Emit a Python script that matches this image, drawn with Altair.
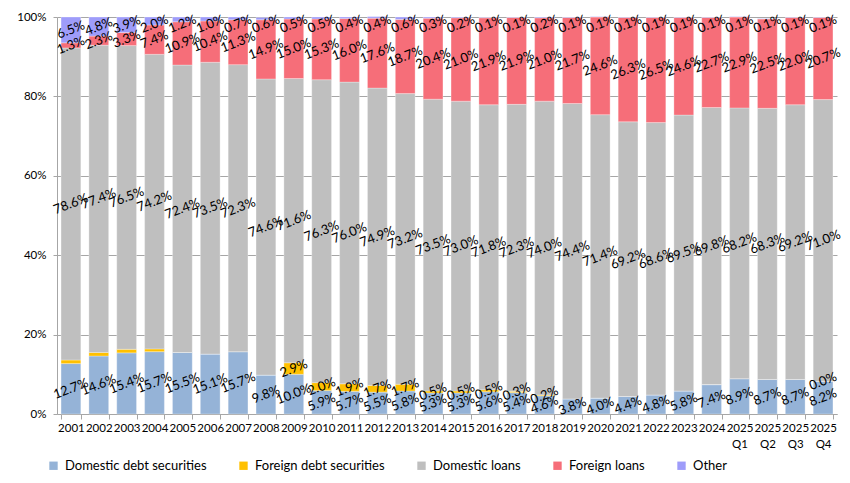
import altair as alt
import pandas as pd

categories = [str(y) for y in range(2001, 2025)] + ["2025|Q1", "2025|Q2", "2025|Q3", "2025|Q4"]

series_names = ["Domestic debt securities", "Foreign debt securities", "Domestic loans", "Foreign loans", "Other"]
series_colors = ["#95b3d7", "#ffc000", "#bfbfbf", "#f66e79", "#9e9cfa"]

domestic_debt = [12.7, 14.6, 15.4, 15.7, 15.5, 15.1, 15.7, 9.8, 10.0, 5.9, 5.7, 5.5, 5.8, 5.3,
                 5.3, 5.6, 5.4, 4.6, 3.8, 4.0, 4.4, 4.8, 5.8, 7.4, 8.9, 8.7, 8.7, 8.2]
foreign_debt = [0.9, 0.9, 0.9, 0.7, 0.0, 0.0, 0.0, 0.0, 2.9, 2.0, 1.9, 1.7, 1.7, 0.5,
                0.5, 0.5, 0.3, 0.2, 0.0, 0.0, 0.0, 0.0, 0.0, 0.0, 0.0, 0.0, 0.0, 0.0]
foreign_debt_labels = ["", "", "", "", "", "", "", "", "2.9%", "2.0%", "1.9%", "1.7%", "1.7%", "0.5%",
                       "0.5%", "0.5%", "0.3%", "0.2%", "", "", "", "", "", "", "", "", "", "0.0%"]
domestic_loans = [78.6, 77.4, 76.5, 74.2, 72.4, 73.5, 72.3, 74.6, 71.6, 76.3, 76.0, 74.9, 73.2, 73.5,
                  73.0, 71.8, 72.3, 74.0, 74.4, 71.4, 69.2, 68.6, 69.5, 69.8, 68.2, 68.3, 69.2, 71.0]
foreign_loans = [1.3, 2.3, 3.3, 7.4, 10.9, 10.4, 11.3, 14.9, 15.0, 15.3, 16.0, 17.6, 18.7, 20.4,
                 21.0, 21.9, 21.9, 21.0, 21.7, 24.6, 26.3, 26.5, 24.6, 22.7, 22.9, 22.5, 22.0, 20.7]
other = [6.5, 4.8, 3.9, 2.0, 1.2, 1.0, 0.7, 0.6, 0.5, 0.5, 0.4, 0.4, 0.6, 0.3,
         0.2, 0.1, 0.1, 0.2, 0.1, 0.1, 0.1, 0.1, 0.1, 0.1, 0.1, 0.1, 0.1, 0.1]

all_values = [domestic_debt, foreign_debt, domestic_loans, foreign_loans, other]

rows = []
for s_idx, (name, vals) in enumerate(zip(series_names, all_values)):
    for c_idx, cat in enumerate(categories):
        v = vals[c_idx]
        if name == "Foreign debt securities":
            lab = foreign_debt_labels[c_idx]
        else:
            lab = f"{v:.1f}%"
        rows.append({"cat": cat, "series": name, "value": v, "order": s_idx, "label": lab})
df = pd.DataFrame(rows)

FONT = "Lato"

x_enc = alt.X("cat:N", sort=categories, title=None,
              scale=alt.Scale(paddingInner=0.29, paddingOuter=0.145),
              axis=alt.Axis(labelAngle=0,
                            labelExpr="isValid(datum.value) ? split(datum.value, '|') : ''",
                            tickBand="extent", tickSize=5, tickColor="#a6a6a6",
                            domainColor="#a6a6a6", labelFont=FONT, labelFontSize=11.5,
                            labelColor="#000000", labelPadding=3, labelLineHeight=16,
                            grid=False))

bars = alt.Chart(df).mark_bar(stroke="white", strokeWidth=0.3).encode(
    x=x_enc,
    y=alt.Y("value:Q", stack="zero", title=None,
            scale=alt.Scale(domain=[0, 100], nice=False),
            axis=alt.Axis(values=[0, 20, 40, 60, 80, 100], labelExpr="datum.value + '%'",
                          gridColor="#a6a6a6", domainColor="#a6a6a6", tickColor="#a6a6a6",
                          tickSize=4, labelPadding=7, labelFont=FONT, labelFontSize=11.5,
                          labelColor="#000000")),
    color=alt.Color("series:N", scale=alt.Scale(domain=series_names, range=series_colors),
                    sort=series_names,
                    legend=alt.Legend(title=None, orient="none", direction="horizontal",
                                      legendX=-10, legendY=442, columns=5,
                                      columnPadding=30, symbolType="square", symbolSize=70,
                                      symbolStrokeWidth=0, labelFont=FONT, labelFontSize=13,
                                      labelColor="#000000", labelOffset=5)),
    order=alt.Order("order:Q", sort="ascending"),
)

labels = alt.Chart(df).transform_stack(
    stack="value", groupby=["cat"], sort=[alt.SortField("order", "ascending")], as_=["y0", "y1"]
).transform_calculate(
    mid="min((datum.y0 + datum.y1) / 2, 98.2)"
).transform_filter(
    "datum.label != ''"
).mark_text(angle=339, font=FONT, fontSize=13, color="#000000", align="center",
            baseline="middle").encode(
    x=alt.X("cat:N", sort=categories),
    y=alt.Y("mid:Q"),
    text="label:N",
)

chart = alt.layer(bars, labels).properties(
    width=780, height=397,
    padding={"left": 49, "top": 9, "right": 5, "bottom": 60},
    autosize=alt.AutoSizeParams(type="none"),
).configure_view(stroke=None)

chart.save("out.html", embed_options={"renderer": "svg", "actions": False})
